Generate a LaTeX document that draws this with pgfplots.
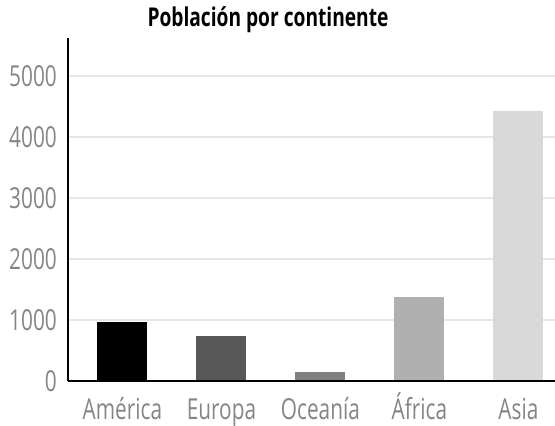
\documentclass[border=0pt]{standalone}
\usepackage{fontspec}
\setmainfont{Open Sans}
\newfontfamily\tickfont{Open Sans}[FakeStretch=0.72]
\newfontfamily\titlefont{Open Sans}[FakeStretch=0.74]
\usepackage{pgfplots}
\pgfplotsset{compat=1.18}
\definecolor{tickgray}{HTML}{858585}
\definecolor{gridgray}{HTML}{E6E6E6}
\definecolor{cA}{HTML}{000000}
\definecolor{cB}{HTML}{585858}
\definecolor{cC}{HTML}{808080}
\definecolor{cD}{HTML}{B0B0B0}
\definecolor{cE}{HTML}{D9D9D9}
\begin{document}
\begin{tikzpicture}
\begin{axis}[
  name=ax,
  scale only axis,
  width=487bp, height=343bp,
  xmin=-0.55, xmax=4.37,
  ymin=0, ymax=5623,
  axis x line*=bottom, axis y line*=left,
  axis line style={line width=1.6bp, black, -},
  ytick={0,1000,2000,3000,4000,5000},
  xtick={0,1,2,3,4},
  xticklabels={América,Europa,Oceanía,África,Asia},
  major tick length=0pt,
  ymajorgrids,
  grid style={line width=1.2bp, gridgray},
  /pgf/number format/assume math mode=true,
  /pgf/number format/1000 sep={},
  ticklabel style={font=\tickfont\fontsize{29}{31}\selectfont, text=tickgray, inner sep=0pt},
  yticklabel style={xshift=-11bp},
  xticklabel style={anchor=north, text height=21bp, text depth=6bp, yshift=-17bp},
  ybar, bar width=50bp,
  bar shift=0pt,
]
\addplot[fill=cA, draw=none] coordinates {(0,962)};
\addplot[fill=cB, draw=none] coordinates {(1,733)};
\addplot[fill=cC, draw=none] coordinates {(2,143)};
\addplot[fill=cD, draw=none] coordinates {(3,1382)};
\addplot[fill=cE, draw=none] coordinates {(4,4431)};
\draw[line width=1.6bp, black] (axis cs:-0.55,0) -- (axis cs:4.37,0);
\end{axis}
\node[font=\titlefont\bfseries\fontsize{26}{29}\selectfont, anchor=center] at ([xshift=-43.5bp,yshift=18bp]ax.north) {Población por continente};
\pgfresetboundingbox
\path[use as bounding box] ([xshift=-68bp,yshift=-45bp]ax.south west) rectangle ([yshift=38bp]ax.north east);
\end{tikzpicture}
\end{document}
